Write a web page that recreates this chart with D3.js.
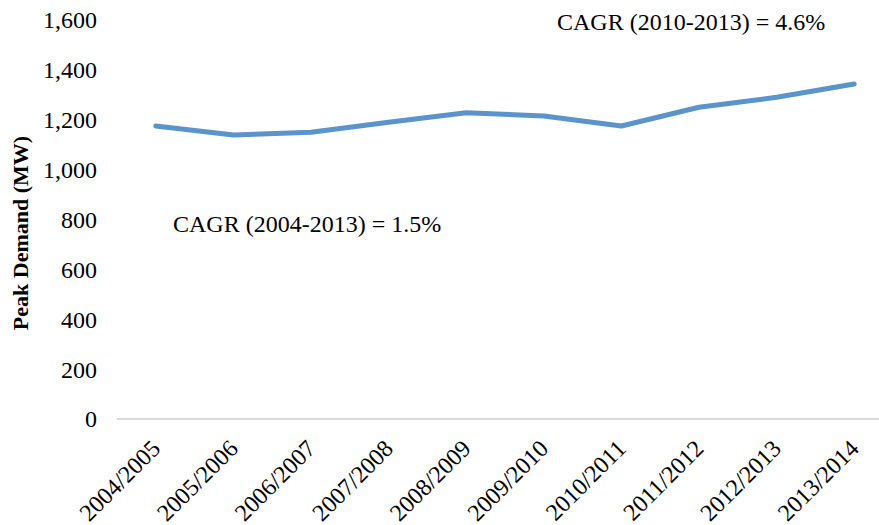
<!DOCTYPE html>
<html>
<head>
<meta charset="utf-8">
<script src="https://cdnjs.cloudflare.com/ajax/libs/d3/7.8.5/d3.min.js"></script>
<style>
  body { margin: 0; background: #fff; }
  svg { display: block; font-family: "Liberation Serif", "Times New Roman", serif; }
</style>
</head>
<body>
<div id="chart"></div>
<script>
// data
const years = ["2004/2005", "2005/2006", "2006/2007", "2007/2008", "2008/2009",
               "2009/2010", "2010/2011", "2011/2012", "2012/2013", "2013/2014"];
const peakDemand = [1175, 1139, 1150, 1190, 1228, 1215, 1175, 1250, 1290, 1343];
const yTicks = [0, 200, 400, 600, 800, 1000, 1200, 1400, 1600];
const notes = [
  { text: "CAGR (2010-2013) = 4.6%", x: 557, y: 30 },
  { text: "CAGR (2004-2013) = 1.5%", x: 173, y: 232 }
];

const W = 879, H = 525;
const margin = { top: 20, right: -14, bottom: 106, left: 117 };
const width = W - margin.left - margin.right,
      height = H - margin.top - margin.bottom;

const svg = d3.select("#chart").append("svg")
    .attr("width", W)
    .attr("height", H);

const g = svg.append("g")
    .attr("transform", `translate(${margin.left},${margin.top})`);

const x = d3.scaleBand().domain(years).range([0, width]);
const y = d3.scaleLinear().domain([0, 1600]).range([height, 0]);

// y tick labels (no axis line)
g.selectAll(".ytick")
    .data(yTicks)
    .enter()
    .append("text")
    .attr("class", "ytick")
    .attr("x", -20)
    .attr("y", d => y(d))
    .attr("dy", "0.35em")
    .attr("text-anchor", "end")
    .attr("font-size", 24)
    .attr("fill", "#000")
    .text(d => d3.format(",")(d));

// x axis baseline
g.append("line")
    .attr("x1", 0)
    .attr("x2", width)
    .attr("y1", y(0))
    .attr("y2", y(0))
    .attr("stroke", "#d9d9d9")
    .attr("stroke-width", 2);

// x labels, rotated
g.selectAll(".xtick")
    .data(years)
    .enter()
    .append("text")
    .attr("class", "xtick")
    .attr("text-anchor", "end")
    .attr("font-size", 24)
    .attr("fill", "#000")
    .attr("transform", d => `translate(${x(d) + x.bandwidth() / 2 + 6},${y(0) + 31}) rotate(-45)`)
    .text(d => d);

// the line
const line = d3.line()
    .x((d, i) => x(years[i]) + x.bandwidth() / 2)
    .y(d => y(d));

g.append("path")
    .datum(peakDemand)
    .attr("d", line)
    .attr("fill", "none")
    .attr("stroke", "#5b93cb")
    .attr("stroke-width", 5)
    .attr("stroke-linecap", "round")
    .attr("stroke-linejoin", "round");

// y axis title
svg.append("text")
    .attr("transform", `translate(28,233) rotate(-90)`)
    .attr("text-anchor", "middle")
    .attr("font-size", 22)
    .attr("font-weight", "bold")
    .text("Peak Demand (MW)");

// CAGR annotations
svg.selectAll(".note")
    .data(notes)
    .enter()
    .append("text")
    .attr("class", "note")
    .attr("x", d => d.x)
    .attr("y", d => d.y)
    .attr("font-size", 24)
    .text(d => d.text);
</script>
</body>
</html>
